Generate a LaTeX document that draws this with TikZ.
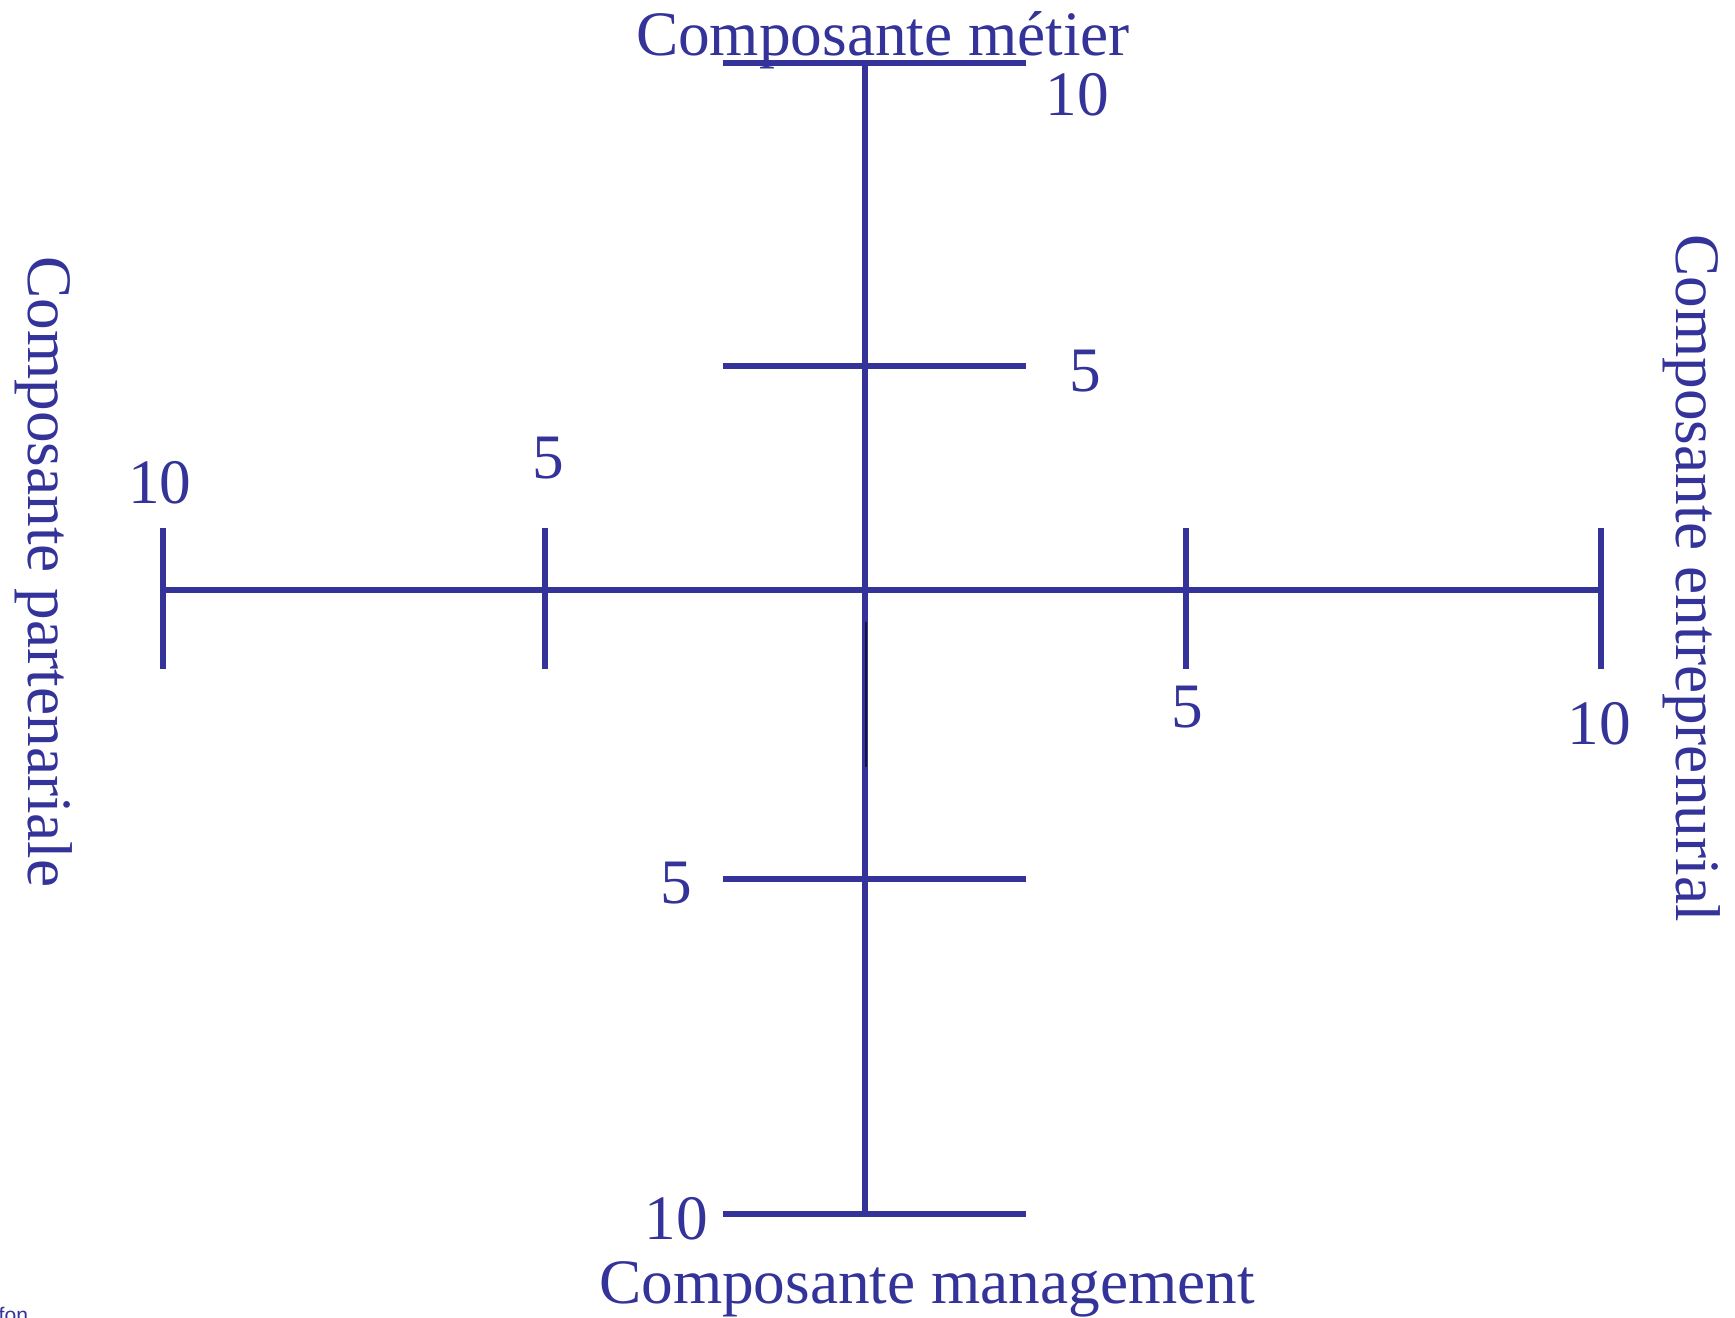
\documentclass[tikz,border=0pt]{standalone}
\usepackage{fontspec}
\setmainfont{Liberation Serif}
\newfontfamily\notefont{Liberation Sans}
\usetikzlibrary{positioning}
\definecolor{axisblue}{HTML}{333399}
\definecolor{axisdark}{HTML}{14143C}

\begin{document}
\begin{tikzpicture}[x=0.01cm, y=-0.01cm,
    axis/.style={line width=1.7pt, axisblue},
    lbl/.style={font=\fontsize{18}{20}\selectfont, text=axisblue, inner sep=0pt, anchor=base}
  ]
  \useasboundingbox (0,0) rectangle (1735,1318);
  % axes
  \coordinate (Mtop) at (865,63);
  \coordinate (Mbot) at (865,1214);
  \coordinate (Pend) at (163,590);
  \coordinate (Eend) at (1601,590);
  \draw[axis] (Mtop) -- (Mbot);
  \draw[axis] (Pend) -- (Eend);
  % ticks on the vertical axis
  \foreach \name/\y in {Mten/63, Mfive/366, Gfive/879, Gten/1214} {
    \coordinate (\name l) at (723,\y);
    \coordinate (\name r) at (1026,\y);
    \draw[axis] (\name l) -- (\name r);
  }
  % ticks on the horizontal axis
  \foreach \name/\x in {Pten/163, Pfive/545, Efive/1186, Eten/1601} {
    \coordinate (\name t) at (\x,528);
    \coordinate (\name b) at (\x,669);
    \draw[axis] (\name t) -- (\name b);
  }
  % thin mark below the centre
  \coordinate (Ct) at (866,622);
  \coordinate (Cb) at (866,767);
  \draw[axisdark, line width=0.6pt] (Ct) -- (Cb);

  % axis titles
  \node[lbl] (metier) at (883,55) {Composante métier};
  \node[lbl] (management) at (927,1303) {Composante management};
  \node[lbl, rotate=-90] (partenariale) at (28,572) {Composante partenariale};
  \node[lbl, rotate=-90] (entrepreneurial) at (1676,578) {Composante entreprenurial};

  % scale values
  \node[lbl] (vMten) at (1077,115) {10};
  \node[lbl] (vMfive) at (1085,391) {5};
  \node[lbl] (vPten) at (160,503) {10};
  \node[lbl] (vPfive) at (548,478) {5};
  \node[lbl] (vEfive) at (1187,727) {5};
  \node[lbl] (vEten) at (1599,744) {10};
  \node[lbl] (vGfive) at (676,903) {5};
  \node[lbl] (vGten) at (676,1239) {10};

  % note at the lower edge
  \node[font=\notefont\fontsize{6}{7}\selectfont, text=axisblue, inner sep=0pt, anchor=base west] (note) at (-2,1322) {fon};
\end{tikzpicture}
\end{document}
